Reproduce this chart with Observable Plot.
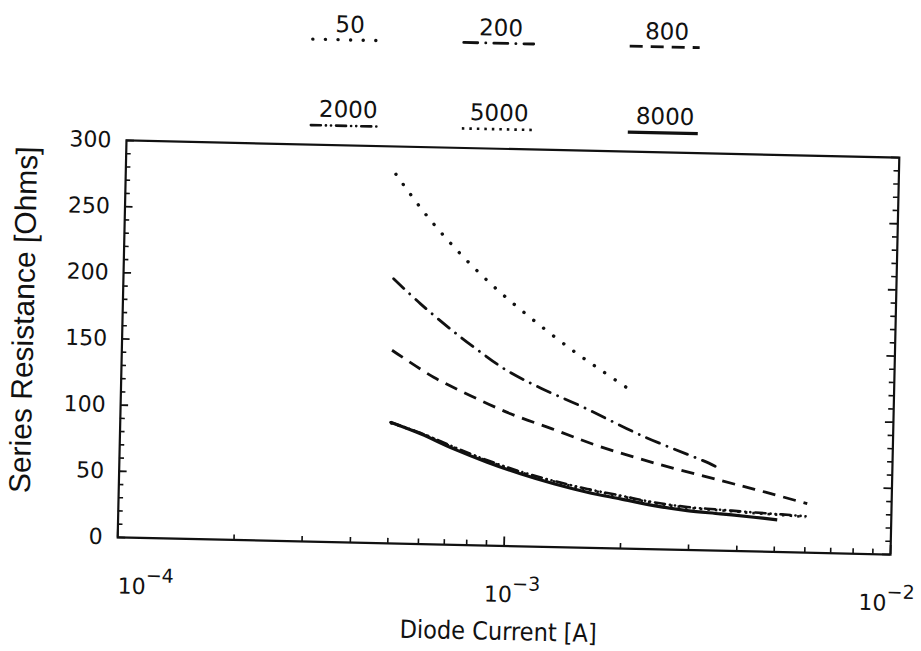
<!DOCTYPE html>
<html>
<head>
<meta charset="utf-8">
<script src="https://cdn.jsdelivr.net/npm/d3@7"></script>
<script src="https://cdn.jsdelivr.net/npm/@observablehq/plot@0.6"></script>
<style>
  html, body { margin: 0; padding: 0; background: #fff; }
  #sheet {
    position: relative; width: 921px; height: 651px;
    transform: rotate(1.27deg); transform-origin: 508px 347px;
  }
  #sheet svg { display: block; overflow: visible; }
</style>
</head>
<body>
<div id="sheet"></div>
<script>
// Series resistance vs. diode current, one curve per parameter value
const seriesNames = ["50", "200", "800", "2000", "5000", "8000"];

const current50 = [5.0e-4, 5.97e-4, 7.30e-4, 9.03e-4, 1.14e-3, 1.456e-3, 1.77e-3, 2.14e-3];
const resistance50 = [279, 250, 222, 196.5, 172.5, 149.5, 133, 117.5];

const current200 = [5.0e-4, 5.89e-4, 7.13e-4, 8.38e-4, 9.95e-4, 1.216e-3, 1.564e-3, 2.244e-3, 3.35e-3, 3.52e-3];
const resistance200 = [200, 181.5, 162, 147, 132.5, 120, 106.5, 85.5, 66, 63];

const current800 = [5.0e-4, 6.43e-4, 8.03e-4, 1.021e-3, 1.311e-3, 1.718e-3, 2.463e-3, 3.598e-3, 4.71e-3, 6.05e-3];
const resistance800 = [146, 126.3, 113, 100, 89.3, 77.4, 64.6, 53.1, 45, 37];

const current2000 = [5.0e-4, 5.99e-4, 7.31e-4, 8.94e-4, 1.092e-3, 1.334e-3, 1.629e-3, 1.988e-3, 2.427e-3, 2.962e-3, 3.614e-3, 4.41e-3, 5.2e-3, 6.0e-3];
const resistance2000 = [91.5, 84, 74, 64.5, 56.5, 50, 44.5, 40, 35.5, 32.5, 31, 29.5, 28.5, 27.5];

const current5000 = [5.0e-4, 5.99e-4, 7.31e-4, 8.94e-4, 1.092e-3, 1.334e-3, 1.629e-3, 1.988e-3, 2.427e-3, 2.962e-3, 3.614e-3, 4.41e-3, 5.2e-3, 6.0e-3];
const resistance5000 = [91, 83.8, 73.5, 64, 56, 49.5, 44, 39.5, 35, 32, 30.5, 29, 28, 27];

const current8000 = [5.0e-4, 5.99e-4, 7.31e-4, 8.94e-4, 1.092e-3, 1.334e-3, 1.629e-3, 1.988e-3, 2.427e-3, 2.962e-3, 3.614e-3, 4.41e-3, 5.07e-3];
const resistance8000 = [91.5, 83.3, 72.5, 63, 54.8, 47.8, 42, 37.5, 33, 29.8, 27.9, 25.9, 24.3];

// Axis ticks
const yTicks = [0, 50, 100, 150, 200, 250, 300];
const yMinorTicks = d3.range(0, 301, 10).filter(v => v % 50 !== 0);
const decadeTicks = [1e-4, 1e-3, 1e-2];
const decadeExponents = ["\u22124", "\u22123", "\u22122"];
const xMinorTicks = [2, 3, 4, 5, 6, 7, 8, 9].flatMap(m => [m * 1e-4, m * 1e-3]);

const xLabel = "Diode Current [A]";
const yLabel = "Series Resistance [Ohms]";

// Horizontal nudge of each decade label relative to its tick
const decadeLabelShift = [26, 6, -6];

// Line style per series (dash pattern, width, cap)
const lineStyles = {
  "50":   {dash: "0.1,12.5", width: 3.4, cap: "round"},
  "200":  {dash: "14,8,0.1,8", width: 2.8, cap: "round"},
  "800":  {dash: "13,8", width: 2.8, cap: "butt"},
  "2000": {dash: "10,5,0.1,5,0.1,5", width: 2.6, cap: "round"},
  "5000": {dash: "2.5,5", width: 2.6, cap: "butt"},
  "8000": {dash: null, width: 3.2, cap: "butt"}
};

const seriesData = {
  "50":   current50.map((c, i) => ({current: c, resistance: resistance50[i]})),
  "200":  current200.map((c, i) => ({current: c, resistance: resistance200[i]})),
  "800":  current800.map((c, i) => ({current: c, resistance: resistance800[i]})),
  "2000": current2000.map((c, i) => ({current: c, resistance: resistance2000[i]})),
  "5000": current5000.map((c, i) => ({current: c, resistance: resistance5000[i]})),
  "8000": current8000.map((c, i) => ({current: c, resistance: resistance8000[i]}))
};

const ink = "#111";
const sheet = document.getElementById("sheet");

// ---- Legend: two rows of three line samples with their labels ----
const legendHeight = 140;
const legendCols = [341, 492, 658];
const legendRows = [{text: 36, line: 43.5}, {text: 121, line: 129.5}];
const legend = d3.create("svg")
  .attr("width", 921).attr("height", legendHeight)
  .attr("font-family", "DejaVu Sans, sans-serif");
seriesNames.forEach((name, i) => {
  const cx = legendCols[i % 3], row = legendRows[Math.floor(i / 3)];
  const st = lineStyles[name];
  legend.append("text")
    .attr("x", cx + 2).attr("y", row.text)
    .attr("text-anchor", "middle").attr("font-size", 23).attr("fill", ink)
    .text(name);
  legend.append("line")
    .attr("x1", cx - 35).attr("x2", cx + 35)
    .attr("y1", row.line).attr("y2", row.line)
    .attr("stroke", ink).attr("stroke-width", st.width)
    .attr("stroke-linecap", st.cap)
    .attr("stroke-dasharray", st.dash);
});
sheet.append(legend.node());

// ---- Chart ----
const frameW = 773, frameH = 397;
const chart = Plot.plot({
  width: 921,
  height: 651 - legendHeight,
  marginLeft: 121.5,
  marginRight: 26.5,
  marginTop: 8.5,
  marginBottom: 105.5,
  style: {fontFamily: "DejaVu Sans, sans-serif", fontSize: "22px", color: ink, background: "transparent", overflow: "visible"},
  x: {type: "log", domain: [1e-4, 1e-2], axis: null},
  y: {domain: [0, 300], axis: null},
  marks: [
    ...seriesNames.map(name => Plot.line(seriesData[name], {
      x: "current", y: "resistance", curve: "catmull-rom",
      stroke: ink, strokeWidth: lineStyles[name].width,
      strokeDasharray: lineStyles[name].dash, strokeLinecap: lineStyles[name].cap
    })),
    // inward ticks on left and right edges
    Plot.tickY(yMinorTicks, {insetRight: frameW - 5, stroke: ink, strokeWidth: 1.6}),
    Plot.tickY(yMinorTicks, {insetLeft: frameW - 5, stroke: ink, strokeWidth: 1.6}),
    Plot.tickY(yTicks, {insetRight: frameW - 8, stroke: ink, strokeWidth: 1.8}),
    Plot.tickY(yTicks, {insetLeft: frameW - 8, stroke: ink, strokeWidth: 1.8}),
    // inward ticks on bottom edge
    Plot.tickX(xMinorTicks, {insetTop: frameH - 5, stroke: ink, strokeWidth: 1.6}),
    Plot.tickX(decadeTicks, {insetTop: frameH - 9, stroke: ink, strokeWidth: 1.8}),
    Plot.frame({stroke: ink, strokeWidth: 2.2}),
    // y tick labels
    Plot.text(yTicks, {y: d => d, frameAnchor: "left", textAnchor: "end", dx: -15, fill: ink}),
    // x tick labels as 10 with raised exponent
    ...decadeTicks.map((t, i) => Plot.text([t], {
      x: d => d, text: () => "10", frameAnchor: "bottom", textAnchor: "end",
      dx: 3 + decadeLabelShift[i], dy: 56, fontSize: 22, fill: ink
    })),
    ...decadeTicks.map((t, i) => Plot.text([t], {
      x: d => d, text: () => decadeExponents[i], frameAnchor: "bottom", textAnchor: "start",
      dx: 3 + decadeLabelShift[i], dy: 44, fontSize: 19, fill: ink
    })),
    // axis titles
    Plot.text([xLabel], {frameAnchor: "bottom", textAnchor: "middle", dx: -4, dy: 94, fontSize: 25, fontFamily: "Liberation Sans Narrow, DejaVu Sans Condensed, Liberation Sans, sans-serif", fill: ink}),
    Plot.text([yLabel], {frameAnchor: "left", textAnchor: "middle", rotate: -90, dx: -98.5, dy: -17, fontSize: 30, fontFamily: "Liberation Sans, sans-serif", fill: ink})
  ]
});
sheet.append(chart);
</script>
</body>
</html>
